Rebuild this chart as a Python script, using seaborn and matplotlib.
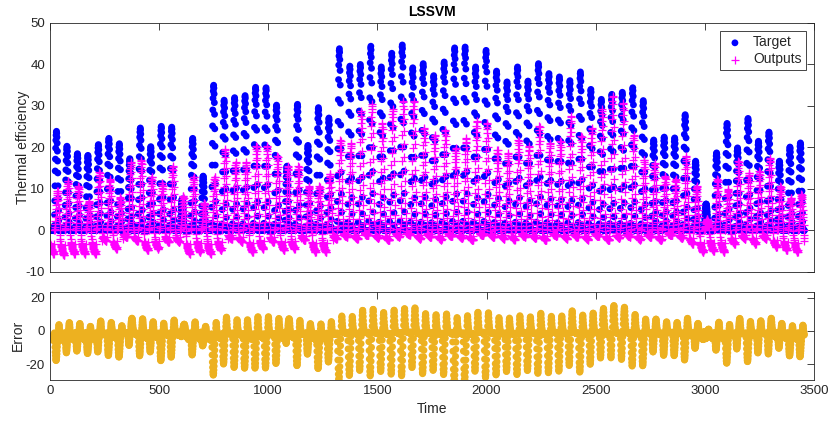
import numpy as np
import pandas as pd
import seaborn as sns
import matplotlib
matplotlib.use('Agg')
import matplotlib.pyplot as plt

# daily peak values (72 days, 48 samples per day)
target_peak = [23.9, 20.3, 18.5, 18.1, 20.7, 22.2, 20.9, 17.3, 24.7, 20.2,
               25.1, 24.9, 7.6, 22.2, 13.1, 35.0, 31.4, 32.0, 32.5, 34.5,
               34.4, 30.2, 15.5, 30.4, 20.5, 29.6, 27.1, 43.8, 39.6, 40.0,
               44.4, 39.4, 42.7, 44.7, 39.2, 40.2, 37.3, 40.6, 44.0, 44.2,
               39.4, 43.4, 38.4, 35.8, 39.4, 36.0, 40.2, 37.8, 37.0, 36.1,
               38.2, 34.0, 31.6, 32.8, 33.3, 34.4, 31.3, 21.8, 22.5, 22.3,
               27.9, 16.7, 6.4, 18.7, 25.8, 19.9, 27.0, 21.5, 23.7, 16.7,
               20.1, 21.1]
output_peak = [9.5, 12.0, 10.7, 7.0, 14.0, 12.3, 8.0, 16.4, 17.0, 13.0,
               11.5, 15.5, 8.3, 13.0, 6.7, 13.0, 19.6, 16.4, 16.4, 20.4,
               20.4, 17.9, 15.5, 15.5, 10.7, 10.7, 13.7, 21.9, 21.1, 28.7,
               30.4, 26.0, 29.2, 31.2, 31.2, 24.7, 23.1, 24.3, 19.9, 22.3,
               26.3, 26.0, 19.5, 18.7, 21.9, 20.3, 25.1, 21.1, 21.5, 27.5,
               22.7, 24.7, 29.2, 32.4, 30.8, 23.1, 17.1, 16.3, 13.1, 12.3,
               17.9, 10.7, 2.7, 12.3, 9.9, 16.7, 13.9, 14.3, 17.5, 10.7,
               7.9, 8.7]
night_level = [-5.6, -6.0, -5.6, -5.6, -5.6, -2.5, -4.4, -1.6, -2.5, -4.8,
               -4.4, -2.8, -2.8, -5.6, -5.2, -5.6, -4.8, -2.0, -2.8, -5.2,
               -4.4, -2.8, -4.8, -4.4, -2.4, -5.2, -5.2, -2.0, -1.5, -2.0,
               -1.2, -1.8, -2.4, -1.5, -1.0, -2.0, -1.6, -2.2, -1.4, -1.8,
               -2.4, -1.2, -1.6, -2.0, -2.2, -1.5, -1.8, -2.4, -1.3, -2.0,
               -1.6, -2.2, -1.4, -2.4, -1.8, -1.5, -2.2, -1.6, -2.4, -1.2,
               -1.8, -3.2, -5.2, -5.0, -5.2, -3.2, -2.0, -3.2, -2.0, -4.0,
               -4.8, -5.2]

# profile of one day (48 half-hour samples)
target_shape = [0.0] * 19 + [0.05, 0.16, 0.3, 0.45, 0.6, 0.72, 0.83, 0.91, 0.96, 0.99, 1.0,
                             0.98, 0.94, 0.88, 0.8, 0.7, 0.58, 0.45, 0.32, 0.2, 0.1, 0.03] + [0.0] * 7
output_shape = [0.0] * 20 + [0.02, 0.05, 0.1, 0.17, 0.25, 0.34, 0.44, 0.54, 0.64, 0.74, 0.83,
                             0.9, 0.96, 1.0, 0.99, 0.94, 0.86, 0.77, 0.67, 0.57, 0.47, 0.38,
                             0.3, 0.22, 0.15, 0.09, 0.05, 0.02]
night_shape = [0.55, 0.6, 0.64, 0.68, 0.72, 0.75, 0.78, 0.81, 0.84, 0.87, 0.9, 0.92, 0.94,
               0.96, 0.98, 1.0, 1.0, 0.9, 0.6] + [0.0] * 24 + [0.1, 0.25, 0.35, 0.45, 0.5]

n_days = len(target_peak)
per_day = len(target_shape)
target = np.repeat(target_peak, per_day) * np.tile(target_shape, n_days)
outputs = (np.repeat(output_peak, per_day) * np.tile(output_shape, n_days)
           + np.repeat(night_level, per_day) * np.tile(night_shape, n_days))
time = np.arange(1, n_days * per_day + 1)

df = pd.DataFrame({'Time': time, 'Target': target, 'Outputs': outputs})
df['Error'] = df['Outputs'] - df['Target']

sns.set_style('white')
plt.rcParams['font.family'] = ['Liberation Sans', 'DejaVu Sans']
plt.rcParams['axes.unicode_minus'] = False
ink = '#262626'

fig = plt.figure(figsize=(8.3, 4.23), dpi=100)
ax1 = fig.add_axes([0.0602, 0.357, 0.9205, 0.5887])
ax2 = fig.add_axes([0.0602, 0.1017, 0.9205, 0.2088])

sns.scatterplot(data=df, x='Time', y='Target', ax=ax1, color='#0000ff', s=24,
                edgecolor='none', label='Target')
sns.scatterplot(data=df, x='Time', y='Outputs', ax=ax1, color='#ff00ff', marker='+',
                s=32, linewidth=0.9, label='Outputs')
sns.scatterplot(data=df, x='Time', y='Error', ax=ax2, color='#EDB120', s=25,
                edgecolor='none', legend=False)

ax1.set_xlim(0, 3500)
ax1.set_ylim(-10, 50)
ax1.set_yticks(range(-10, 51, 10))
ax1.set_xticks(range(0, 3501, 500))
ax1.set_xticklabels([])
ax1.set_xlabel('')
ax1.set_ylabel('Thermal efficiency', fontsize=10, color=ink, labelpad=-3)
ax1.set_title('LSSVM', fontsize=10, fontweight='bold', color='black', pad=5)

ax2.set_xlim(0, 3500)
ax2.set_ylim(-29.5, 23.6)
ax2.set_yticks([-20, 0, 20])
ax2.set_xticks(range(0, 3501, 500))
ax2.set_xlabel('Time', fontsize=10, color=ink)
ax2.set_ylabel('Error', fontsize=10, color=ink, labelpad=1)

for ax in (ax1, ax2):
    ax.tick_params(direction='in', top=True, right=True, length=5, width=0.6,
                   colors=ink, labelsize=9.5)
    for sp in ax.spines.values():
        sp.set_linewidth(0.6)
        sp.set_color(ink)

leg = ax1.legend(loc='upper right', fontsize=10, frameon=True, fancybox=False,
                 framealpha=1, edgecolor=ink, borderpad=0.3, handletextpad=0.5,
                 handlelength=1.6, borderaxespad=0.6, labelspacing=0.2)
leg.get_frame().set_linewidth(0.6)

fig.savefig('out.png', dpi=100)
